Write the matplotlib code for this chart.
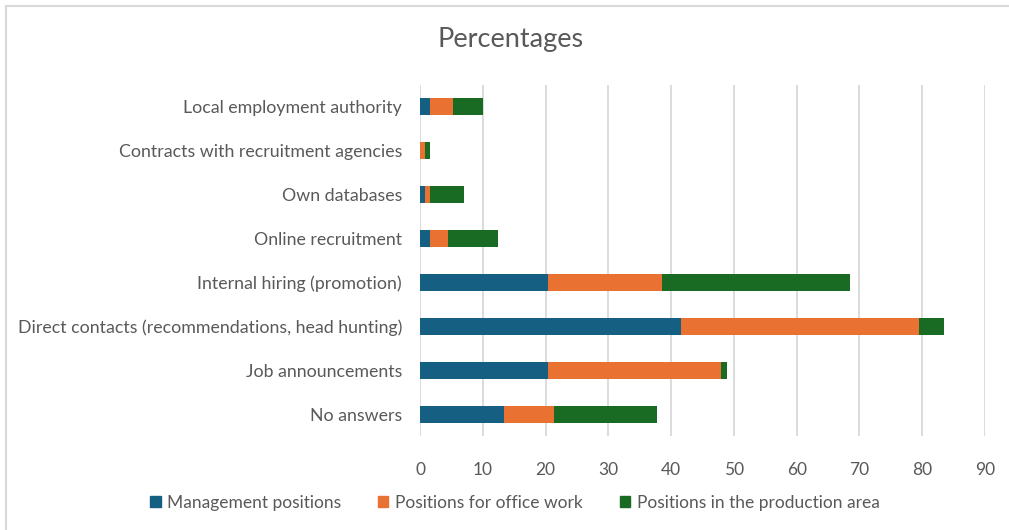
import matplotlib
matplotlib.use("Agg")
import matplotlib.pyplot as plt
from matplotlib.lines import Line2D
import numpy as np

plt.rcParams['font.family'] = ['Lato', 'DejaVu Sans']

# channels, listed from top to bottom
categories = [
    "Local employment authority",
    "Contracts with recruitment agencies",
    "Own databases",
    "Online recruitment",
    "Internal hiring (promotion)",
    "Direct contacts (recommendations, head hunting)",
    "Job announcements",
    "No answers",
]
management = [1.6, 0.0, 0.8, 1.6, 20.4, 41.6, 20.4, 13.4]
office = [3.7, 0.8, 0.8, 2.9, 18.1, 37.9, 27.6, 7.9]
production = [4.8, 0.8, 5.4, 8.0, 30.0, 3.9, 0.9, 16.4]
series_names = ["Management positions", "Positions for office work",
                "Positions in the production area"]
colors = ["#156082", "#E97132", "#196B24"]
xticks = list(range(0, 100, 10))

text_col = "#595959"
grid_col = "#D9D9D9"

fig = plt.figure(figsize=(10.09, 5.30), dpi=100)
ax = fig.add_axes([420 / 1009, 1 - 436 / 530, 565 / 1009, 351 / 530])

y = np.arange(len(categories))
left = np.zeros(len(categories))
for vals, name, c in zip([management, office, production], series_names, colors):
    ax.barh(y, vals, left=left, height=0.39, color=c, label=name, zorder=3)
    left += np.array(vals)

ax.set_ylim(len(categories) - 0.5, -0.5)
ax.set_xlim(0, 90)
ax.set_xticks(xticks)
ax.set_yticks(y)
ax.set_yticklabels(categories)

ax.grid(axis='x', color=grid_col, linewidth=1.3, zorder=0)
for s in ax.spines.values():
    s.set_visible(False)
ax.tick_params(axis='both', length=0, colors=text_col)
ax.tick_params(axis='y', pad=13, labelsize=12.8)
ax.tick_params(axis='x', pad=19, labelsize=12.5)

fig.text(511 / 1009, 1 - 40 / 530, "Percentages", ha='center', va='center',
         fontsize=19.5, color=text_col)

handles = [plt.Rectangle((0, 0), 1, 1, color=c) for c in colors]
fig.legend(handles, series_names, loc='center', bbox_to_anchor=(515 / 1009, 1 - 503 / 530),
           ncol=3, frameon=False, fontsize=12.5, labelcolor=text_col,
           handlelength=0.6, handleheight=0.6, handletextpad=0.4, columnspacing=2.1)

# chart area border (top and left edges visible)
fig.add_artist(Line2D([5.5 / 1009, 1.0], [1 - 5.5 / 530] * 2, color=grid_col,
                      linewidth=1.5, transform=fig.transFigure))
fig.add_artist(Line2D([5.5 / 1009] * 2, [0.0, 1 - 5.5 / 530], color=grid_col,
                      linewidth=1.5, transform=fig.transFigure))

fig.savefig("out.png", dpi=100, facecolor="white")
